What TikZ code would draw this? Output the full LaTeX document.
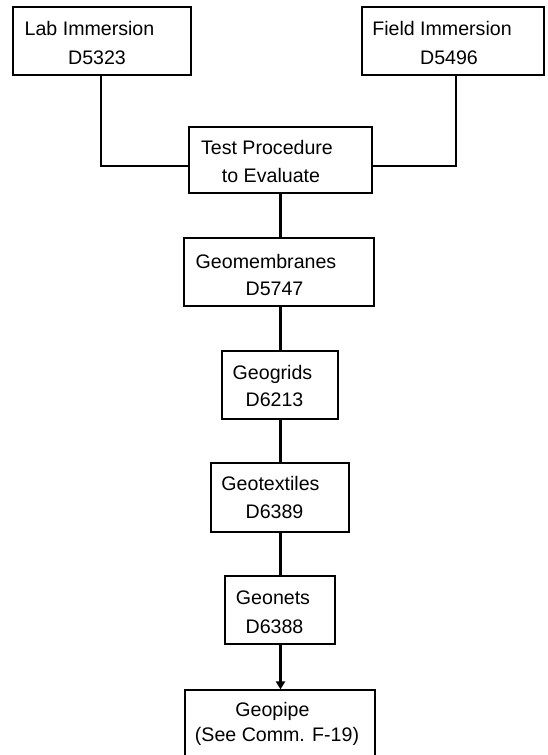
\documentclass[tikz,border=0pt]{standalone}
\usepackage{fontspec}
\setmainfont{Liberation Sans}
\usetikzlibrary{arrows.meta}
\begin{document}
\begin{tikzpicture}[x=1pt,y=-1pt,
  box/.style={draw, line width=1.2pt, inner sep=0pt},
  txt/.style={inner sep=0pt, font=\fontsize{19.6}{28}\selectfont, text height=14.1pt, text depth=0pt},
  thinline/.style={line width=1.3pt},
  spine/.style={line width=2.4pt}]
\useasboundingbox (0,0) rectangle (548,755);
% boxes
\node[box, minimum width=178pt, minimum height=68pt] (lab) at (102,41) {};
\node[box, minimum width=182pt, minimum height=68pt] (field) at (453,41) {};
\node[box, minimum width=183pt, minimum height=66pt] (test) at (280.5,160) {};
\node[box, minimum width=190pt, minimum height=68pt] (geomem) at (279,272) {};
\node[box, minimum width=116pt, minimum height=68pt] (geogrids) at (280,385) {};
\node[box, minimum width=138pt, minimum height=69pt] (geotext) at (280,497.5) {};
\node[box, minimum width=110pt, minimum height=68pt] (geonets) at (280,610) {};
\node[box, minimum width=190pt, minimum height=68pt] (geopipe) at (280,724) {};
% texts
\node[txt] (lab1) at (89.5,28) {Lab Immersion};
\node[txt] (lab2) at (97,57) {D5323};
\node[txt] (field1) at (442,28) {Field Immersion};
\node[txt] (field2) at (449,57) {D5496};
\node[txt] (test1) at (267,147) {Test Procedure};
\node[txt] (test2) at (271,175) {to Evaluate};
\node[txt] (geomem1) at (266,261) {Geomembranes};
\node[txt] (geomem2) at (274.5,288) {D5747};
\node[txt] (geogrids1) at (272.5,372) {Geogrids};
\node[txt] (geogrids2) at (274.5,399) {D6213};
\node[txt] (geotext1) at (270.5,483) {Geotextiles};
\node[txt] (geotext2) at (274.5,511) {D6389};
\node[txt] (geonets1) at (273,597) {Geonets};
\node[txt] (geonets2) at (274.5,626) {D6388};
\node[txt] (geopipe1) at (272.5,709) {Geopipe};
\node[txt] (geopipe2) at (277,734) {(See Comm. F-19)};
% connectors
\coordinate (lj) at (101,166);
\coordinate (fj) at (456,166);
\coordinate (sp) at (280.5,0);
\draw[thinline] (lab.south -| lj) |- (test.west |- lj);
\draw[thinline] (field.south -| fj) |- (test.east |- fj);
\draw[spine] (test.south -| sp) -- (geomem.north -| sp);
\draw[spine] (geomem.south -| sp) -- (geogrids.north -| sp);
\draw[spine] (geogrids.south -| sp) -- (geotext.north -| sp);
\draw[spine] (geotext.south -| sp) -- (geonets.north -| sp);
\draw[spine, -{Triangle[length=8pt,width=9pt]}] (geonets.south -| sp) -- (geopipe.north -| sp);
\end{tikzpicture}
\end{document}
